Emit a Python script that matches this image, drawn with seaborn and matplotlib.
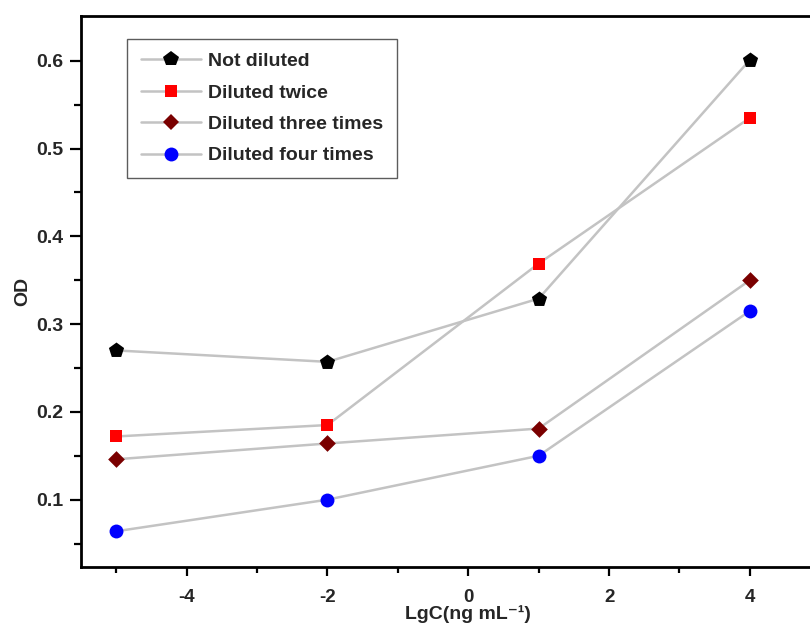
import matplotlib
matplotlib.use("Agg")
import matplotlib.pyplot as plt
from matplotlib.lines import Line2D
from matplotlib.ticker import FixedLocator
import seaborn as sns
import pandas as pd

# ---- data ----
lgc = [-5, -2, 1, 4]
not_diluted = [0.270, 0.257, 0.329, 0.601]
diluted_twice = [0.172, 0.185, 0.369, 0.535]
diluted_three = [0.146, 0.164, 0.181, 0.350]
diluted_four = [0.064, 0.100, 0.150, 0.315]

series_names = ["Not diluted", "Diluted twice", "Diluted three times", "Diluted four times"]
series_values = [not_diluted, diluted_twice, diluted_three, diluted_four]
x_ticks = [-4, -2, 0, 2, 4]
x_tick_labels = ["-4", "-2", "0", "2", "4"]
y_ticks = [0.1, 0.2, 0.3, 0.4, 0.5, 0.6]
y_tick_labels = ["0.1", "0.2", "0.3", "0.4", "0.5", "0.6"]

colors = ["#000000", "#ff0000", "#7a0000", "#0000ff"]
markers = ["p", "s", "D", "o"]
msizes = [11.5, 9, 8.5, 10]

rows = []
for name, vals in zip(series_names, series_values):
    for xv, yv in zip(lgc, vals):
        rows.append({"LgC": xv, "OD": yv, "series": name})
df = pd.DataFrame(rows)

sns.set_theme(style="white")
plt.rcParams["font.family"] = ["Liberation Sans", "DejaVu Sans"]

fig = plt.figure(figsize=(8.1, 6.27), dpi=100)
# axes extends past the right edge of the figure (cropped as in the reference)
ax = fig.add_axes([81 / 810, 60 / 627, (855.5 - 81) / 810, (567 - 15.7) / 627])

line_color = "#c3c3c3"
sns.lineplot(data=df, x="LgC", y="OD", units="series", estimator=None,
             color=line_color, lw=1.8, ax=ax, legend=False, zorder=1)
for name, c, m, ms in zip(series_names, colors, markers, msizes):
    sub = df[df["series"] == name]
    sns.scatterplot(data=sub, x="LgC", y="OD", color=c, marker=m,
                    s=ms ** 2, linewidth=0, ax=ax, zorder=3, legend=False)

ax.set_xlim(-5.5, 5.5)
ax.set_ylim(0.0233, 0.6513)

ax.xaxis.set_major_locator(FixedLocator(x_ticks))
ax.xaxis.set_minor_locator(FixedLocator([-5, -3, -1, 1, 3, 5]))
ax.yaxis.set_major_locator(FixedLocator(y_ticks))
ax.yaxis.set_minor_locator(FixedLocator([0.05, 0.15, 0.25, 0.35, 0.45, 0.55]))
ax.set_xticklabels(x_tick_labels)
ax.set_yticklabels(y_tick_labels)

for sp in ["left", "bottom", "top"]:
    ax.spines[sp].set_linewidth(2)
    ax.spines[sp].set_color("black")
ax.spines["right"].set_visible(False)

ax.tick_params(axis="both", which="both", direction="out", color="black",
               width=1.6, top=False, right=False, left=True, bottom=True)
ax.tick_params(axis="y", which="major", length=8, pad=5)
ax.tick_params(axis="y", which="minor", length=5)
ax.tick_params(axis="x", which="major", length=6.5, pad=9)
ax.tick_params(axis="x", which="minor", length=4.5)

for lab in ax.get_yticklabels():
    lab.set_fontsize(14)
    lab.set_fontweight("bold")
for lab in ax.get_xticklabels():
    lab.set_fontsize(13.5)
    lab.set_fontweight("bold")

ax.set_xlabel("LgC(ng mL\u207b\u00b9)", fontsize=14, fontweight="bold",
              family=["Liberation Sans", "DejaVu Sans"], labelpad=0)
ax.set_ylabel("OD", fontsize=14, fontweight="bold", labelpad=3)

handles = [Line2D([0], [0], color=line_color, lw=1.8, marker=m, markersize=ms,
                  markerfacecolor=c, markeredgewidth=0)
           for c, m, ms in zip(colors, markers, msizes)]
leg = ax.legend(handles, series_names, loc="upper left",
                bbox_to_anchor=((126.7 - 81) / (855.5 - 81), (567 - 38.5) / 551.3),
                borderaxespad=0, frameon=True, fancybox=False,
                handlelength=3.1, handletextpad=0.35, labelspacing=0.71,
                borderpad=0.72, prop={"weight": "bold", "size": 14})
leg.get_frame().set_edgecolor("#333333")
leg.get_frame().set_linewidth(1.0)

fig.savefig("out.png", dpi=100)
